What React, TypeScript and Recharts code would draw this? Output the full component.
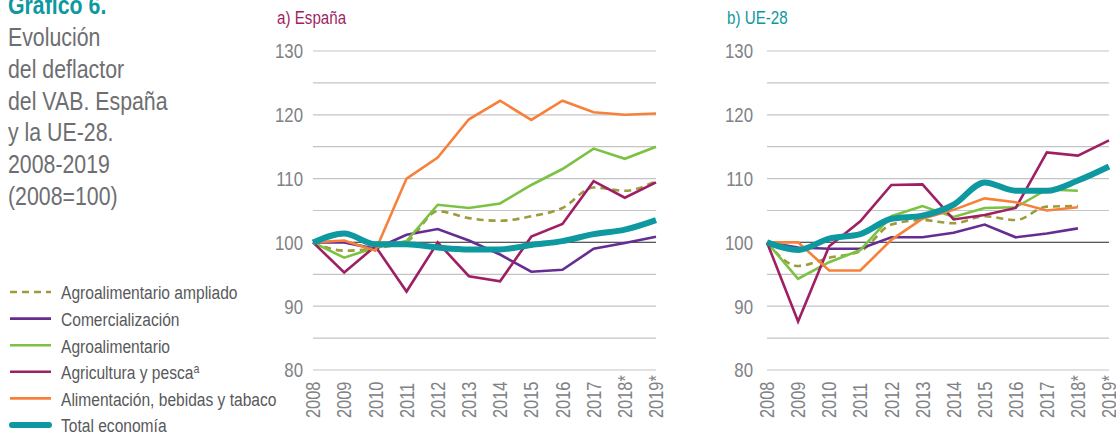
import React from 'react';
import { LineChart, Line, XAxis, YAxis, CartesianGrid, ReferenceLine } from 'recharts';

const FONT = "'Liberation Sans', Arial, sans-serif";
const NARROW = 0.82;

const years = ['2008', '2009', '2010', '2011', '2012', '2013', '2014', '2015', '2016', '2017', '2018*', '2019*'];
const yTicks = [80, 85, 90, 95, 100, 105, 110, 115, 120, 125, 130];

// a) España
const ampliadoES = [100, 98.7, 99.1, 100.1, 104.9, 103.8, 103.4, 104.1, 105.4, 108.6, 108.1, 109.6];
const comercES = [100, 100.0, 99.0, 101.2, 102.1, 100.3, 98.1, 95.4, 95.7, 99.0, 99.9, 100.9];
const agroES = [100, 97.6, 99.2, 100.2, 105.9, 105.4, 106.1, 109.0, 111.5, 114.7, 113.1, 115.0];
const agriES = [100, 95.3, 99.4, 92.3, 100.0, 94.7, 93.9, 100.9, 102.9, 109.6, 107.0, 109.4];
const alimES = [100, 100.3, 98.7, 110.0, 113.3, 119.3, 122.2, 119.2, 122.2, 120.4, 120.0, 120.2];
const totalES = [100, 101.4, 99.7, 99.7, 99.2, 98.9, 98.9, 99.6, 100.2, 101.3, 102.0, 103.5];

// b) UE-28
const ampliadoEU = [100, 96.3, 97.6, 98.6, 102.8, 103.5, 103.0, 104.1, 103.5, 105.6, 105.7, null];
const comercEU = [100, 99.2, 99.0, 99.0, 100.8, 100.8, 101.5, 102.8, 100.8, 101.4, 102.2, null];
const agroEU = [100, 94.3, 96.9, 98.8, 104.1, 105.7, 104.0, 105.4, 105.5, 108.3, 108.1, null];
const agriEU = [100, 87.6, 99.4, 103.3, 109.0, 109.1, 103.6, 104.3, 105.4, 114.1, 113.6, 116.0];
const alimEU = [100, 100.0, 95.6, 95.6, 100.4, 103.7, 105.1, 106.9, 106.3, 105.0, 105.5, null];
const totalEU = [100, 98.8, 100.6, 101.3, 103.7, 104.2, 105.9, 109.4, 108.1, 108.1, 109.7, 111.9];

const series = [
  { key: 'ampliado', name: 'Agroalimentario ampliado', color: '#9c9c3c', width: 2.6, dash: '7 5', type: 'monotone' },
  { key: 'comerc', name: 'Comercialización', color: '#662d91', width: 2.6, dash: undefined, type: 'linear' },
  { key: 'agro', name: 'Agroalimentario', color: '#7cc242', width: 2.6, dash: undefined, type: 'linear' },
  { key: 'agri', name: 'Agricultura y pesca', color: '#9e1f63', width: 2.6, dash: undefined, type: 'linear' },
  { key: 'alim', name: 'Alimentación, bebidas y tabaco', color: '#f7813a', width: 2.6, dash: undefined, type: 'linear' },
  { key: 'total', name: 'Total economía', color: '#0e98a0', width: 6, dash: undefined, type: 'monotone' },
];

const build = (a: any[], c: any[], g: any[], r: any[], l: any[], t: any[]) =>
  years.map((year, i) => ({ year, ampliado: a[i], comerc: c[i], agro: g[i], agri: r[i], alim: l[i], total: t[i] }));

const dataES = build(ampliadoES, comercES, agroES, agriES, alimES, totalES);
const dataEU = build(ampliadoEU, comercEU, agroEU, agriEU, alimEU, totalEU);

// Narrow text: regular sans scaled horizontally
function NText(props: {
  x: number; y: number; size: number; fill: string; weight?: any; anchor?: any; dy?: string; rotate?: number; children?: any;
}) {
  const { x, y, size, fill, weight, anchor, dy, rotate, children } = props;
  const tr = `translate(${x},${y})${rotate ? ` rotate(${rotate})` : ''} scale(${NARROW},1)`;
  return (
    <text transform={tr} x={0} y={0} dy={dy} fill={fill} fontSize={size} fontWeight={weight} textAnchor={anchor} fontFamily={FONT}>
      {children}
    </text>
  );
}

const TICK_COLOR = '#808285';

const makeYTick = (dx: number) => (props: any) => {
  const { x, y, payload } = props;
  if (payload.value % 10 !== 0) return null;
  return (
    <NText x={x + dx} y={y} dy="0.36em" anchor="end" fill={TICK_COLOR} size={20.5}>
      {payload.value}
    </NText>
  );
};

const XTick = (props: any) => {
  const { x, payload } = props;
  return (
    <NText x={x} y={418} rotate={-90} anchor="start" dy="0.36em" fill={TICK_COLOR} size={20}>
      {payload.value}
    </NText>
  );
};

function Panel(props: { left: number; width: number; yw: number; mr: number; dx: number; data: any[] }) {
  const { left, width, yw, mr, dx, data } = props;
  return (
    <div style={{ position: 'absolute', left, top: 0 }}>
      <LineChart width={width} height={436} data={data} margin={{ top: 51, right: mr, bottom: 10, left: 0 }}>
        <CartesianGrid horizontal vertical={false} stroke="#c4c4c6" strokeWidth={1.2} />
        <XAxis dataKey="year" axisLine={false} tickLine={false} height={56} interval={0} tick={<XTick />} />
        <YAxis
          domain={[80, 130]}
          ticks={yTicks}
          type="number"
          width={yw}
          axisLine={false}
          tickLine={false}
          interval={0}
          tick={makeYTick(dx)}
        />
        <ReferenceLine y={100} stroke="#58595b" strokeWidth={1.2} />
        {series.map((s) => (
          <Line
            key={s.key}
            dataKey={s.key}
            type={s.type as any}
            stroke={s.color}
            strokeWidth={s.width}
            strokeDasharray={s.dash}
            dot={false}
            activeDot={false}
            connectNulls={false}
            isAnimationActive={false}
          />
        ))}
      </LineChart>
    </div>
  );
}

const titleLines = ['Evolución', 'del deflactor', 'del VAB. España', 'y la UE-28.', '2008-2019', '(2008=100)'];

export default function App() {
  return (
    <div style={{ position: 'absolute', left: 0, top: 0, width: 1116, height: 436, overflow: 'hidden', background: '#fff' }}>
      <svg width={300} height={436} style={{ position: 'absolute', left: 0, top: 0 }}>
        <NText x={8} y={14} fill="#0e98a0" size={26} weight="bold">
          Gráfico 6.
        </NText>
        {titleLines.map((t, i) => (
          <NText key={t} x={8} y={45.7 + i * 31.9} fill="#6d6e71" size={26}>
            {t}
          </NText>
        ))}
        {series.map((s, i) => {
          const cy = 292 + i * 26.6;
          return (
            <g key={s.key}>
              <line
                x1={s.key === 'total' ? 12 : 10}
                x2={s.key === 'total' ? 49 : 51}
                y1={cy}
                y2={cy}
                stroke={s.color}
                strokeWidth={s.width}
                strokeDasharray={s.dash}
                strokeLinecap={s.key === 'total' ? 'round' : 'butt'}
              />
              <NText x={61} y={cy + 7.3} fill="#58595b" size={19}>
                {s.name}
                {s.key === 'agri' ? (
                  <tspan fontSize={13} dy={-6}>
                    a
                  </tspan>
                ) : null}
              </NText>
            </g>
          );
        })}
      </svg>
      <svg width={1116} height={40} style={{ position: 'absolute', left: 0, top: 0 }}>
        <NText x={277} y={24} fill="#9e1f63" size={18.5}>a) España</NText>
        <NText x={727} y={24} fill="#0e98a0" size={18.5}>b) UE-28</NText>
      </svg>
      <Panel left={240} width={430} yw={73} mr={14} dx={-2} data={dataES} />
      <Panel left={690} width={426} yw={77} mr={7} dx={-6} data={dataEU} />
    </div>
  );
}
